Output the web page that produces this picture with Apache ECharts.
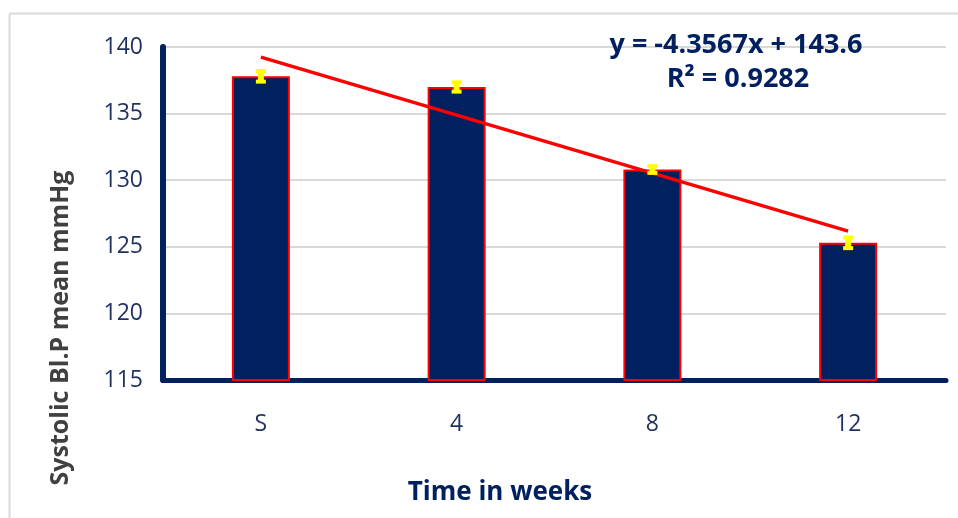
<!DOCTYPE html>
<html><head><meta charset="utf-8">
<script src="https://cdn.jsdelivr.net/npm/echarts@6/dist/echarts.min.js"></script>
<style>html,body{margin:0;padding:0;background:#fff}#c{width:958px;height:518px}</style>
</head><body><div id="c"></div>
<script>
const categories = ['S', '4', '8', '12'];
const meanValues = [137.8, 137.0, 130.8, 125.3];
const errorValues = [0.4, 0.35, 0.25, 0.4];
const trendSlope = -4.3567;
const trendIntercept = 143.6;
const trendLabel1 = 'y = -4.3567x + 143.6';
const trendR2 = '0.9282';

const trendData = categories.map((c, i) => trendIntercept + trendSlope * (i + 1));
const errData = categories.map((c, i) => [i, meanValues[i] - errorValues[i], meanValues[i] + errorValues[i]]);

const navy = '#002060';
const font = '"Open Sans", "DejaVu Sans", sans-serif';
const chart = echarts.init(document.getElementById('c'));
chart.setOption({
  animation: false,
  grid: { left: 163, right: 12, top: 47, bottom: 138, containLabel: false },
  xAxis: {
    type: 'category', data: categories,
    axisLine: { lineStyle: { color: navy, width: 5 } },
    axisTick: { show: false },
    axisLabel: { color: '#1f2f5f', fontSize: 23, fontFamily: font, margin: 33 }
  },
  yAxis: {
    type: 'value', min: 115, max: 140, interval: 5,
    axisLine: { show: true, lineStyle: { color: navy, width: 6 } },
    axisTick: { show: false },
    splitLine: { lineStyle: { color: '#d9d9d9', width: 2 } },
    axisLabel: { color: '#1f2f5f', fontSize: 23, fontFamily: font, margin: 20 }
  },
  series: [
    { type: 'bar', data: meanValues, barWidth: 58,
      itemStyle: { color: navy, borderColor: '#ff0000', borderWidth: 2 }, z: 2 },
    { type: 'line', data: trendData, symbol: 'none',
      lineStyle: { color: '#ff0000', width: 3.5 }, z: 4 },
    { type: 'custom', data: errData, z: 5,
      renderItem: function (params, api) {
        const x = api.coord([api.value(0), api.value(1)])[0];
        const lo = api.coord([api.value(0), api.value(1)])[1];
        const hi = api.coord([api.value(0), api.value(2)])[1];
        const hw = 5;
        const st = { stroke: '#ffff00', lineWidth: 4 };
        return { type: 'group', children: [
          { type: 'line', shape: { x1: x, y1: hi, x2: x, y2: lo }, style: { stroke: '#ffff00', lineWidth: 6 } },
          { type: 'line', shape: { x1: x - hw, y1: hi, x2: x + hw, y2: hi }, style: st },
          { type: 'line', shape: { x1: x - hw, y1: lo, x2: x + hw, y2: lo }, style: st }
        ]};
      }
    }
  ],
  graphic: [
    { type: 'line', shape: { x1: 9.5, y1: 13.5, x2: 958, y2: 13.5 }, style: { stroke: '#d9d9d9', lineWidth: 2 } },
    { type: 'line', shape: { x1: 9.5, y1: 13.5, x2: 9.5, y2: 518 }, style: { stroke: '#d9d9d9', lineWidth: 2 } },
    { type: 'text', z: 10, x: 736, y: 45, style: { text: trendLabel1, fill: navy, font: 'bold 27px ' + font, textAlign: 'center', textVerticalAlign: 'middle' } },
    { type: 'text', z: 10, x: 738, y: 79, style: { text: 'R\u00b2 = ' + trendR2, fill: navy, font: 'bold 27px ' + font, textAlign: 'center', textVerticalAlign: 'middle' } },
    { type: 'text', z: 10, x: 500, y: 493, style: { text: 'Time in weeks', fill: navy, font: 'bold 26px ' + font, textAlign: 'center', textVerticalAlign: 'middle' } },
    { type: 'text', z: 10, x: 61, y: 328, rotation: Math.PI / 2, style: { text: 'Systolic Bl.P mean mmHg', fill: '#404040', font: 'bold 25px ' + font, textAlign: 'center', textVerticalAlign: 'middle' } }
  ]
});
</script></body></html>
